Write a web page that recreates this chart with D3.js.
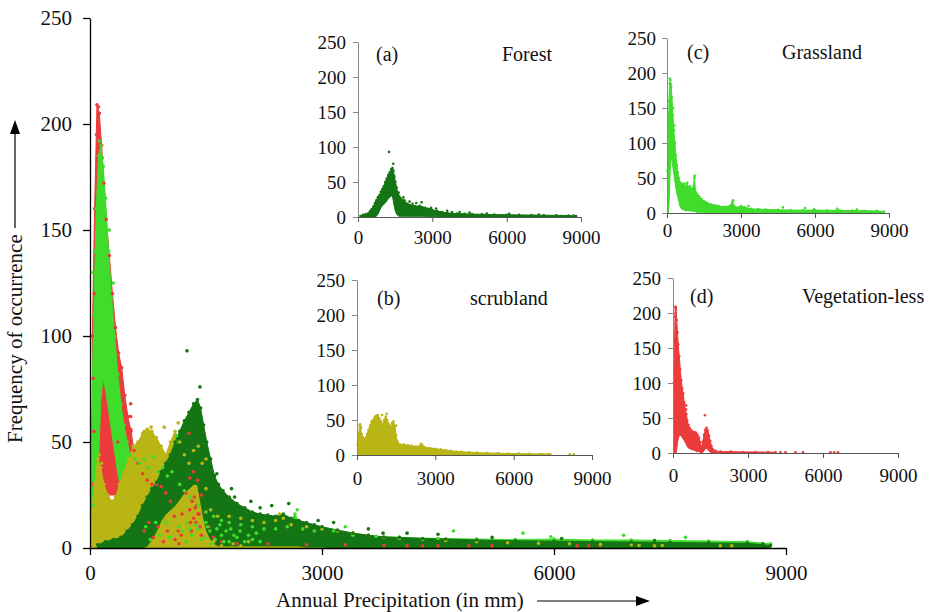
<!DOCTYPE html>
<html>
<head>
<meta charset="utf-8">
<script src="https://cdn.jsdelivr.net/npm/d3@7"></script>
<style>
  body { margin: 0; background: #fff; }
  text { font-family: "Liberation Serif", "Times New Roman", serif; fill: #111; }
</style>
</head>
<body>
<svg id="chart" width="935" height="612"></svg>
<script>
// ---- data: [precipitation mm, low edge, high edge] of each dense cloud
var forestBand = [[100,0,1.5],[200,0,3],[300,0,4],[400,0,5],[480,0,8],[550,0,11],[620,0,15],[680,0,20],
  [740,1,24],[800,4,28],[860,8,31],[920,13,36],[980,16,40],[1040,18,44],[1100,20,50],[1160,23,55],[1220,26,60],
  [1280,28,64],[1340,30,68],[1390,30,70],[1430,22,66],[1470,14,58],[1510,8,50],[1560,4,42],[1610,2,34],
  [1660,1,30],[1720,1,27],[1800,1,24],[1900,1,21],[2000,1,19],[2100,1,17],[2200,1,16],[2300,1,15.5],
  [2400,1,15],[2500,1,16],[2600,1,14],[2700,1,13],[2800,0.5,12],[2900,0.5,11],[3000,0.5,10],[3200,0,8.5],
  [3400,0,7],[3600,0,6],[3800,0,5.2],[4000,0,5],[4300,0,4.5],[4600,0,4.2],[5000,0,3.8],[5500,0,3.4],
  [6000,0,3.2],[6500,0,3],[7000,0,2.8],[7500,0,2.6],[8000,0,2.4],[8500,0,2.2],[8800,0,1.2]];
var forestDots = [[1254,93],[1422,76],[1640,35],[1830,28],[1870,24],[2080,22],[2200,19],[2350,20],[2570,21],
  [2950,13],[3150,12],[3600,9],[3790,7],[4100,7],[4500,6.5],[5200,5],[6100,4.5],[7300,3.5],[8700,2]];

var grassBand = [[20,0,60],[50,0,110],[80,10,160],[110,40,185],[140,70,190],[170,80,180],[200,75,165],
  [240,65,140],[280,55,118],[320,45,100],[360,35,82],[400,28,68],[440,22,58],[480,16,50],[520,10,44],
  [580,6,42],[640,5,40],[700,4,42],[760,4,38],[820,4,43],[880,3,36],[940,3,38],[1000,3,34],[1060,2,36],
  [1110,2,50],[1160,2,30],[1220,1,27],[1300,1,24],[1400,1,20],[1500,1,17],[1600,0,15],[1700,0,13],
  [1800,0,12],[1950,0,11],[2100,0,10],[2250,0,9],[2400,0,9],[2550,0,10],[2650,0,16],[2750,0,9],[2900,0,8],
  [3000,0,10],[3150,0,8],[3400,0,6],[3700,0,5.5],[4000,0,5],[4500,0,4.5],[5000,0,4.2],[5500,0,4],
  [6000,0,4.2],[6500,0,3.8],[7000,0,3.8],[7500,0,3.5],[8000,0,3.3],[8500,0,3],[8800,0,2]];
var grassDots = [[40,20],[45,45],[50,70],[55,95],[40,130],[60,140],[160,184],[120,192],[250,150],[300,125],
  [720,10],[780,4],[850,12],[900,6],[980,12],[1030,5],
  [1120,53],[1150,10],[1200,8],[1250,12],[1250,3],[1290,9],[1320,6],[1360,11],[1400,9],[1440,4],[1480,5],
  [1500,12],[1520,10],[1550,8],[1560,2],[1590,3],[1620,4],[1640,9],[1680,11],[1700,6],[1730,3],[1760,8],
  [1800,3],[1820,9],[1860,6],[1900,5],[1940,8],[2000,3],[2050,6],[2100,4],[2150,7],[2200,3],
  [2680,18],[3300,10],[4700,8],[5600,7],[5960,5.3],[6900,6],[7700,5]];

var scrubBand = [[20,0,15],[60,0,30],[100,0,42],[140,0,38],[180,0,30],[230,0,25],[280,0,22],[330,0,24],
  [380,0,30],[440,0,36],[500,0,42],[560,0,48],[620,0,50],[680,0,54],[740,0,56],[800,0,55],[860,0,52],
  [920,0,48],[980,0,44],[1040,0,50],[1100,0,55],[1160,0,50],[1220,0,44],[1280,0,40],[1340,0,46],[1400,0,48],
  [1450,0,40],[1500,0,28],[1560,0,18],[1650,0,15],[1800,0,15],[1950,0,14],[2100,0,13],[2250,0,12],
  [2400,0,13],[2500,0,14],[2600,0,11],[2800,0,10],[3000,0,9],[3200,0,8],[3400,0,7],[3600,0,6],[3800,0,5],
  [4000,0,4.5],[4300,0,4],[4600,0,3.5],[5000,0,3],[5400,0,2.5],[5800,0,2.2],[6200,0,2],[6600,0,1.8],
  [7000,0,1.5],[7400,0,1.2]];
var scrubDots = [[120,44],[150,40],[700,55],[790,57],[960,57],[1140,59],[1500,42],[2450,16],
  [1600,3],[1700,1],[1850,2],[1950,1],[2050,3],
  [7100,1.2],[7300,1],[8150,1],[8300,1]];

var bareBand = [[30,0,100],[60,0,160],[90,0,209],[120,0,205],[150,5,190],[180,15,172],[210,20,155],
  [250,25,138],[290,25,120],[330,25,104],[370,22,92],[410,20,85],[450,18,72],[490,15,62],[530,12,55],
  [570,9,46],[620,7,40],[680,6,35],[740,5,32],[800,5,30],[860,4,30],[920,3,29],[980,3,26],[1040,2,22],
  [1090,1,15],[1140,0,8],[1190,1,16],[1240,3,26],[1290,6,33],[1340,7,36],[1390,5,32],[1440,3,25],
  [1490,1,17],[1540,0,10],[1600,0,5],[1700,0,3],[1900,0,2],[2300,0,2],[2800,0,1.5],[3300,0,1.5],
  [3800,0,1.2],[4100,0,1]];
var bareDots = [[45,30],[50,55],[40,80],[55,120],[85,195],[100,200],[110,208],[526,68],[526,62],[526,56],
  [526,50],[360,50],[700,8],[760,12],[820,5],[880,10],[950,3],[1000,8],
  [1280,54],[1100,4],[1150,2],[1180,6],[1290,18],[1300,12],[1310,8],[1320,22],[1340,14],
  [1350,24],[1360,19],[1370,12],[1380,20],[1395,16],[1410,16],[1420,10],[1440,6],
  [4300,1],[4500,1],[4900,1],[5200,1],[6300,1],[6450,1],[6600,1]];

var yTicks = [0, 50, 100, 150, 200, 250];
var xTicks = [0, 3000, 6000, 9000];

var series = {
  forest: {band: forestBand, dots: forestDots, color: "#137513"},
  grass:  {band: grassBand,  dots: grassDots,  color: "#3fdc2c"},
  scrub:  {band: scrubBand,  dots: scrubDots,  color: "#b9b515"},
  bare:   {band: bareBand,   dots: bareDots,   color: "#ec3b3b"}
};

var svg = d3.select("#chart");

function drawPanel(p) {
  var x = d3.scaleLinear().domain([0, 9000]).range([p.x0, p.x1]);
  var y = d3.scaleLinear().domain([0, 250]).range([p.y0, p.yTop]);
  var g = svg.append("g");

  var area = d3.area()
    .x(function(d) { return x(d[0]); })
    .y0(function(d) { return y(d[1]); })
    .y1(function(d) { return y(d[2]); });

  // dense clouds first, then the scattered points on top
  p.keys.forEach(function(k) {
    var s = series[k];
    g.append("path")
      .datum(s.band)
      .attr("d", area)
      .attr("fill", s.color)
      .attr("stroke", s.color)
      .attr("stroke-width", 1);
  });
  p.keys.forEach(function(k) {
    var s = series[k];
    g.selectAll(null)
      .data(s.band.concat(s.dots))
      .enter().append("circle")
        .attr("cx", function(d) { return x(d[0]); })
        .attr("cy", function(d) { return y(d.length > 2 ? d[2] : d[1]); })
        .attr("r", p.r)
        .attr("fill", s.color);
  });

  var fmt = d3.format("d");
  var yAxis = g.append("g")
    .attr("transform", "translate(" + p.x0 + ",0)")
    .call(d3.axisLeft(y).tickValues(yTicks).tickFormat(fmt)
      .tickSize(p.tick).tickSizeOuter(0).tickPadding(p.yPad));
  var xAxis = g.append("g")
    .attr("transform", "translate(0," + p.y0 + ")")
    .call(d3.axisBottom(x).tickValues(xTicks).tickFormat(fmt)
      .tickSize(p.tick).tickSizeOuter(0).tickPadding(p.xPad));

  yAxis.selectAll("path, line").attr("stroke", p.yColor).attr("stroke-width", p.sw);
  xAxis.selectAll("path, line").attr("stroke", p.xColor).attr("stroke-width", p.sw);
  g.selectAll(".tick text")
    .attr("fill", "#111")
    .style("font-family", '"Liberation Serif", serif')
    .style("font-size", p.font + "px");

  if (p.tag) {
    g.append("text").attr("x", p.tagX).attr("y", p.labelY).style("font-size", "20px").text(p.tag);
    g.append("text").attr("x", p.nameX).attr("y", p.labelY).style("font-size", "20px").text(p.name);
  }
}

// main panel: all four classes overlaid
drawPanel({x0: 90, x1: 786, yTop: 18, y0: 548, keys: ["bare", "grass", "scrub", "forest"],
  r: 1.8, tick: 7, yPad: 11, xPad: 10, font: 21, yColor: "#000", xColor: "#000", sw: 1.3});

// insets
drawPanel({x0: 358, x1: 581, yTop: 42, y0: 217, keys: ["forest"], r: 1.3, tick: 5, yPad: 7, xPad: 9,
  font: 19, yColor: "#888", xColor: "#555", sw: 1,
  tag: "(a)", name: "Forest", tagX: 376, nameX: 502, labelY: 61});
drawPanel({x0: 667, x1: 889, yTop: 38, y0: 213, keys: ["grass"], r: 1.3, tick: 5, yPad: 6, xPad: 6,
  font: 19, yColor: "#888", xColor: "#555", sw: 1,
  tag: "(c)", name: "Grassland", tagX: 687, nameX: 782, labelY: 59});
drawPanel({x0: 357, x1: 592, yTop: 280, y0: 455, keys: ["scrub"], r: 1.3, tick: 5, yPad: 7, xPad: 12,
  font: 19, yColor: "#888", xColor: "#555", sw: 1,
  tag: "(b)", name: "scrubland", tagX: 377, nameX: 470, labelY: 305});
drawPanel({x0: 673, x1: 898, yTop: 278, y0: 453, keys: ["bare"], r: 1.3, tick: 5, yPad: 7, xPad: 11,
  font: 19, yColor: "#888", xColor: "#555", sw: 1,
  tag: "(d)", name: "Vegetation-less", tagX: 690, nameX: 802, labelY: 303});

// axis titles with arrows
svg.append("text")
  .attr("x", 276).attr("y", 607)
  .style("font-size", "21px")
  .text("Annual Precipitation (in mm)");
svg.append("line").attr("x1", 537).attr("y1", 601).attr("x2", 638).attr("y2", 601)
  .attr("stroke", "#000").attr("stroke-width", 1.2);
svg.append("path").attr("d", "M636,596L650,601L636,606Z").attr("fill", "#000");

svg.append("text")
  .attr("transform", "translate(22,443) rotate(-90)")
  .style("font-size", "21px")
  .text("Frequency of occurrence");
svg.append("line").attr("x1", 15).attr("y1", 228).attr("x2", 15).attr("y2", 132)
  .attr("stroke", "#000").attr("stroke-width", 1.2);
svg.append("path").attr("d", "M10,134L15,120L20,134Z").attr("fill", "#000");
</script>
</body>
</html>
